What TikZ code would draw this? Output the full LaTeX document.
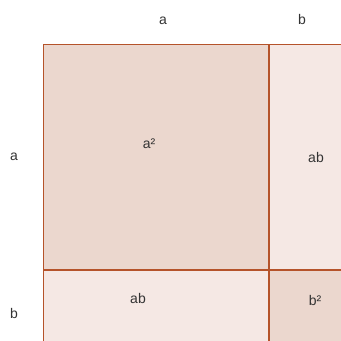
\documentclass[tikz,border=0pt]{standalone}
\usepackage{fontspec}
\setmainfont{Liberation Sans}
\definecolor{bigfill}{HTML}{EBD7CE}
\definecolor{smallfill}{HTML}{F5E8E4}
\definecolor{edge}{HTML}{B5532A}
\begin{document}
\begin{tikzpicture}[x=0.75pt,y=-0.75pt,
  lbl/.style={font=\fontsize{10.5}{12}\selectfont, text=black!80, inner sep=0pt},
  part/.style={draw=edge, line width=1.1pt}]
\useasboundingbox (0,0) rectangle (341,340);
\clip (0,0) rectangle (341,340);
\fill[bigfill] (43.5,44.5) rectangle (269,270);
\fill[smallfill] (269,44.5) rectangle (350,270);
\fill[smallfill] (43.5,270) rectangle (269,350);
\fill[bigfill] (269,270) rectangle (350,350);
\draw[part] (43.5,350) -- (43.5,44.5) -- (350,44.5);
\draw[part] (269,44.5) -- (269,350);
\draw[part] (43.5,270) -- (350,270);
\node[lbl] (ta) at (163,21) {a};
\node[lbl] (tb) at (302,19) {b};
\node[lbl] (la) at (14,157) {a};
\node[lbl] (lb) at (14,313) {b};
\node[lbl] (a2) at (149,144) {a²};
\node[lbl] (ab1) at (316,157) {ab};
\node[lbl] (ab2) at (138,298) {ab};
\node[lbl] (b2) at (315,300) {b²};
\end{tikzpicture}
\end{document}
